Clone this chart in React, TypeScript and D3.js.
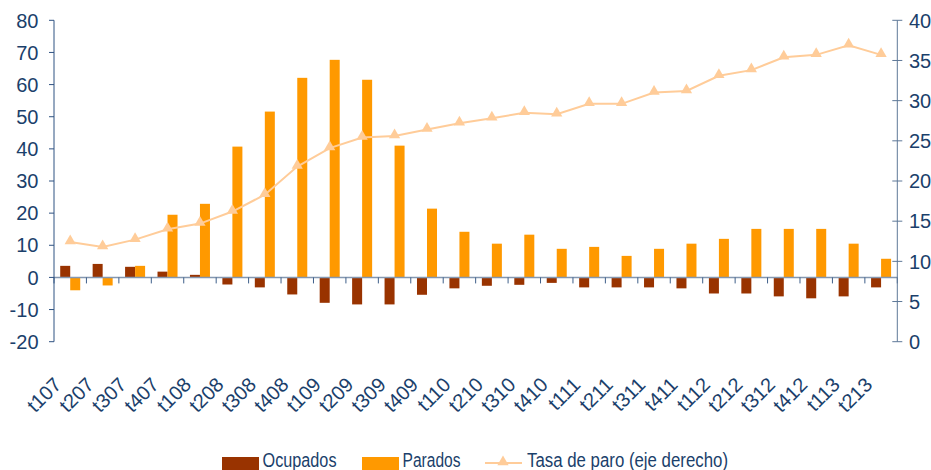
import React from "react";
import * as d3 from "d3";

const categories = ["t107","t207","t307","t407","t108","t208","t308","t408","t109","t209","t309","t409","t110","t210","t310","t410","t111","t211","t311","t411","t112","t212","t312","t412","t113","t213"];
const ocupados = [3.6,4.2,3.3,1.8,0.8,-2.2,-3.1,-5.3,-7.9,-8.4,-8.4,-5.4,-3.4,-2.6,-2.3,-1.7,-3.1,-3.1,-3.1,-3.4,-5.0,-5.0,-5.9,-6.5,-5.9,-3.1];
const parados = [-4.0,-2.5,3.6,19.5,22.9,40.7,51.6,62.1,67.7,61.5,41.0,21.4,14.2,10.5,13.3,8.9,9.5,6.7,8.9,10.5,12.0,15.1,15.1,15.1,10.5,5.8];
const tasaParo = [12.4,11.8,12.7,14.0,14.7,16.2,18.3,21.8,24.1,25.4,25.6,26.4,27.2,27.8,28.5,28.3,29.6,29.6,31.0,31.2,33.1,33.8,35.4,35.7,36.9,35.7];
const leftTicks = [-20,-10,0,10,20,30,40,50,60,70,80];
const rightTicks = [0,5,10,15,20,25,30,35,40];
const seriesNames = ["Ocupados","Parados","Tasa de paro (eje derecho)"];

const W = 931, H = 470;
const left = 54, right = 897.3, top = 20.3, bottom = 341.7;
const colOcup = "#993300", colPar = "#FF9900", colLine = "#FFCC99";
const textCol = "#1B3F6B";
const font = "'Liberation Sans', Arial, sans-serif";

export default function App() {
  const x0 = d3.scaleBand<string>().domain(categories).range([left, right]).paddingInner(0.383).paddingOuter(0.1915);
  const x1 = d3.scaleBand<string>().domain(["o","p"]).range([0, x0.bandwidth()]);
  const yL = d3.scaleLinear().domain([-20, 80]).range([bottom, top]);
  const yR = d3.scaleLinear().domain([0, 40]).range([bottom, top]);
  const step = x0.step();
  const cx = (c: string) => (x0(c) as number) + x0.bandwidth() / 2;
  const line = d3.line<number>().x((_, i) => cx(categories[i])).y(d => yR(d));
  const tri = d3.symbol().type(d3.symbolTriangle).size(55)() as string;
  const y0 = yL(0);
  const bandStarts = d3.range(categories.length + 1).map(i => left + i * step);

  return (
    <svg width={W} height={H} style={{ position: "absolute", left: 0, top: 0, background: "#fff" }} fontFamily={font}>
      {/* bars */}
      {categories.map((c, i) => (
        <g key={c}>
          <rect x={(x0(c) as number) + (x1("o") as number)} width={x1.bandwidth()}
            y={Math.min(yL(ocupados[i]), y0)} height={Math.abs(yL(ocupados[i]) - y0)} fill={colOcup} />
          <rect x={(x0(c) as number) + (x1("p") as number)} width={x1.bandwidth()}
            y={Math.min(yL(parados[i]), y0)} height={Math.abs(yL(parados[i]) - y0)} fill={colPar} />
        </g>
      ))}
      {/* category axis at zero */}
      <line x1={left} x2={right} y1={y0} y2={y0} stroke="#8497B0" strokeWidth={1.5} />
      {bandStarts.map((bx, i) => (
        <line key={i} x1={bx} x2={bx} y1={y0} y2={y0 + 6} stroke="#3E5F8A" strokeWidth={1} />
      ))}
      {/* line */}
      <path d={line(tasaParo) as string} fill="none" stroke={colLine} strokeWidth={2} />
      {tasaParo.map((v, i) => (
        <path key={i} d={tri} transform={`translate(${cx(categories[i])},${yR(v) - 1})`} fill={colLine} />
      ))}
      {/* left axis */}
      <line x1={left} x2={left} y1={top} y2={bottom} stroke="#2F5282" strokeWidth={1} />
      {leftTicks.map(t => (
        <g key={t}>
          <line x1={left - 5} x2={left} y1={yL(t)} y2={yL(t)} stroke="#2F5282" />
          <text x={38.5} y={yL(t)} dy="0.36em" textAnchor="end" fontSize={20} fill={textCol}>{t}</text>
        </g>
      ))}
      {/* right axis */}
      <line x1={right} x2={right} y1={top} y2={bottom} stroke="#5E7898" strokeWidth={1} />
      {rightTicks.map(t => (
        <g key={t}>
          <line x1={right - 5} x2={right + 5} y1={yR(t)} y2={yR(t)} stroke="#5E7898" />
          <text x={909} y={yR(t)} dy="0.36em" textAnchor="start" fontSize={20} fill={textCol}>{t}</text>
        </g>
      ))}
      {/* x labels */}
      {categories.map(c => (
        <text key={c} transform={`translate(${cx(c) - 7.5},${386}) rotate(-45)`} textAnchor="end" fontSize={20} fill={textCol}>{c}</text>
      ))}
      {/* legend */}
      <g fontSize={20} fill={textCol}>
        <rect x={222} y={457} width={37} height={13} fill={colOcup} />
        <text x={262.5} y={466.5} textLength={74} lengthAdjust="spacingAndGlyphs">{seriesNames[0]}</text>
        <rect x={362} y={457} width={37} height={13} fill={colPar} />
        <text x={402.5} y={466.5} textLength={58} lengthAdjust="spacingAndGlyphs">{seriesNames[1]}</text>
        <line x1={485} x2={522} y1={463} y2={463} stroke={colLine} strokeWidth={2} />
        <path d={tri} transform={`translate(503,462)`} fill={colLine} />
        <text x={527} y={466.5} textLength={201} lengthAdjust="spacingAndGlyphs">{seriesNames[2]}</text>
      </g>
    </svg>
  );
}
